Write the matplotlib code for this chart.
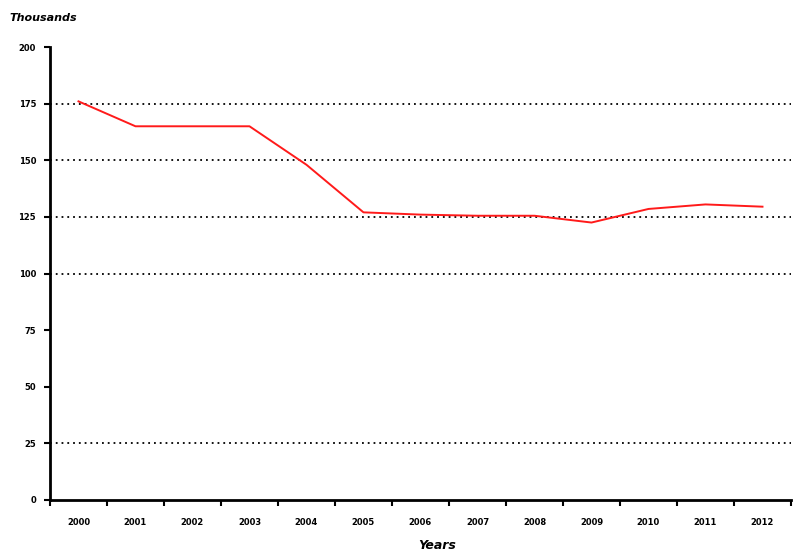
import numpy as np
import matplotlib
matplotlib.use("Agg")
import matplotlib.pyplot as plt

years = ["2000", "2001", "2002", "2003", "2004", "2005", "2006",
         "2007", "2008", "2009", "2010", "2011", "2012"]
values = [176, 165, 165, 165, 148, 127, 126, 125.5, 125.5, 122.5, 128.5, 130.5, 129.5]
yticks = [0, 25, 50, 75, 100, 125, 150, 175, 200]
grid_vals = [25, 100, 125, 150, 175]

fig = plt.figure(figsize=(7.96, 5.55), dpi=100)
ax = fig.add_axes([0.0628, 0.0991, 0.9309, 0.8162])

x = np.arange(len(years))
for g in grid_vals:
    ax.axhline(g, color="black", lw=1.3, ls=(0, (1, 2.2)), zorder=1)
ax.plot(x, values, color="#ff1a1a", lw=1.4, zorder=3)

ax.set_xlim(-0.5, len(years) - 0.5)
ax.set_ylim(0, 200)
ax.set_yticks(yticks)
ax.set_yticklabels([str(t) for t in yticks])
ax.set_xticks(x)
ax.set_xticklabels(years)
ax.set_xticks(np.arange(-0.5, len(years), 1.0), minor=True)
ax.tick_params(axis="x", which="major", length=0, pad=13, labelsize=6)
ax.tick_params(axis="x", which="minor", length=4, width=1.5, direction="out")
ax.tick_params(axis="y", length=4, width=1.5, labelsize=6, pad=6)
for lab in ax.get_xticklabels() + ax.get_yticklabels():
    lab.set_fontweight("bold")

for s in ["top", "right"]:
    ax.spines[s].set_visible(False)
ax.spines["left"].set_linewidth(2)
ax.spines["bottom"].set_linewidth(2)

fig.text(0.012, 0.968, "Thousands", fontsize=8, fontweight="bold", style="italic", va="center")
fig.text(0.549, 0.018, "Years", fontsize=9, fontweight="bold", style="italic", ha="center", va="center")

fig.savefig("out.png", dpi=100)
